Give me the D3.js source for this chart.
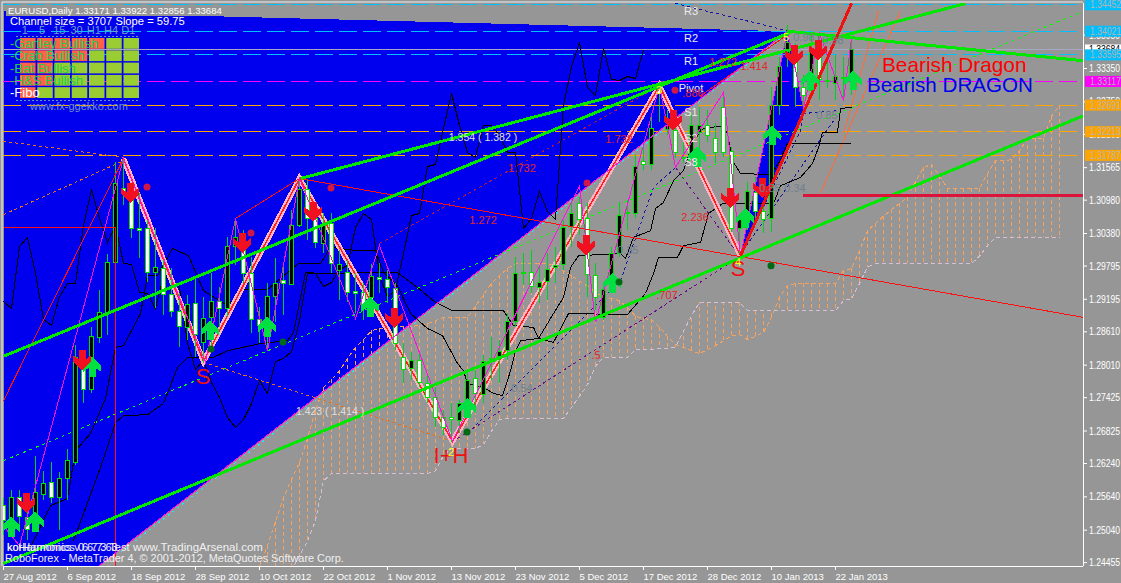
<!DOCTYPE html>
<html>
<head>
<meta charset="utf-8">
<script src="https://cdn.jsdelivr.net/npm/d3@7"></script>
<style>
	html, body { margin: 0; padding: 0; background: #969696; overflow: hidden; }
	text { font-family: "Liberation Sans", Arial, sans-serif; }
	.axis text { fill: #fff; font-size: 11px; }
	.axis line, .axis path { stroke: #fff; }
	.pricetag { font-size: 11px; }
	.plot path, .plot line { shape-rendering: crispEdges; }
</style>
</head>
<body>
<svg width="1121" height="583"></svg>
<script>
// candles, one value per daily bar
const opens = [1.25484,1.25250,1.25628,1.25268,1.25340,1.25682,1.25898,1.25628,1.25970,1.26258,1.28040,1.27572,1.28508,1.28958,1.29858,1.31190,1.31154,1.30470,1.30470,1.29678,1.29750,1.29282,1.28976,1.28688,1.29120,1.28418,1.28868,1.29156,1.29030,1.30146,1.30218,1.29660,1.28832,1.28778,1.29246,1.29534,1.29462,1.30524,1.31172,1.30650,1.30200,1.30560,1.29714,1.29678,1.29336,1.29318,1.29228,1.29588,1.29552,1.29390,1.28148,1.27950,1.28094,1.27680,1.27428,1.27068,1.27068,1.27014,1.27374,1.27770,1.27482,1.28112,1.28166,1.28274,1.28796,1.29678,1.29678,1.29408,1.29516,1.29768,1.29822,1.30506,1.30920,1.30650,1.29624,1.28868,1.29624,1.30020,1.30758,1.30740,1.31676,1.31622,1.32990,1.32252,1.32234,1.31730,1.31820,1.32198,1.32324,1.32090,1.32648,1.31856,1.30470,1.30578,1.31118,1.30776,1.30650,1.32684,1.33620,1.33494,1.33008,1.32954,1.33584,1.33116,1.33080,1.33188,1.33171];
const highs = [1.25610,1.25754,1.25754,1.25448,1.26366,1.26096,1.26258,1.26078,1.26492,1.28364,1.28148,1.28688,1.29354,1.30002,1.31658,1.31694,1.31208,1.31100,1.30614,1.30470,1.29894,1.29750,1.29300,1.29264,1.29570,1.29228,1.29660,1.29408,1.30308,1.30650,1.30434,1.29948,1.29048,1.29480,1.29930,1.29840,1.30794,1.31370,1.31334,1.30830,1.30740,1.30740,1.30074,1.29894,1.29660,1.29480,1.29822,1.29840,1.29714,1.29480,1.28400,1.28238,1.28238,1.27860,1.27608,1.27194,1.27320,1.27374,1.27914,1.27914,1.28184,1.28508,1.28454,1.28940,1.29948,1.30020,1.30074,1.29768,1.30020,1.30128,1.30614,1.30938,1.31028,1.30920,1.29840,1.29480,1.30128,1.30938,1.30974,1.31784,1.32000,1.32468,1.33044,1.32594,1.32378,1.32018,1.32540,1.32648,1.32594,1.32360,1.32900,1.31928,1.30668,1.31298,1.31388,1.30974,1.33008,1.33548,1.34124,1.33800,1.33224,1.33980,1.33980,1.33548,1.33584,1.33548,1.33922];
const lows = [1.24944,1.24908,1.25034,1.24854,1.24998,1.25574,1.25520,1.25034,1.25574,1.26204,1.27320,1.27500,1.28400,1.28544,1.29804,1.30884,1.30290,1.29930,1.29498,1.29030,1.28904,1.28868,1.28328,1.28454,1.28148,1.28040,1.28328,1.28688,1.28868,1.29804,1.29480,1.28580,1.28400,1.28274,1.28778,1.28904,1.29444,1.30488,1.30254,1.30110,1.30020,1.29660,1.29174,1.29138,1.28940,1.28814,1.28868,1.29300,1.29120,1.28274,1.27680,1.27734,1.27608,1.27320,1.26888,1.26744,1.26618,1.26780,1.27194,1.27248,1.27320,1.27734,1.27680,1.28094,1.28688,1.29444,1.29300,1.29120,1.29174,1.29480,1.29714,1.30128,1.30344,1.29228,1.28994,1.28814,1.29300,1.29948,1.30434,1.30650,1.31514,1.31514,1.32378,1.32144,1.31730,1.31640,1.31694,1.31568,1.32018,1.31640,1.31748,1.30398,1.30020,1.30434,1.30614,1.30380,1.30398,1.32504,1.33368,1.32648,1.32594,1.32828,1.32774,1.32990,1.32774,1.32774,1.32856];
const closes = [1.25214,1.25628,1.25286,1.25052,1.25718,1.25880,1.25628,1.25970,1.26294,1.28148,1.27572,1.28526,1.28958,1.29858,1.31280,1.31136,1.30470,1.30434,1.29678,1.29768,1.29282,1.28976,1.28706,1.29102,1.28562,1.28850,1.29156,1.29030,1.30146,1.30308,1.29660,1.28832,1.28724,1.29246,1.29480,1.29480,1.30524,1.31172,1.30650,1.30218,1.30524,1.29840,1.29822,1.29318,1.29300,1.29030,1.29606,1.29552,1.29408,1.28400,1.27932,1.28094,1.27698,1.27428,1.27068,1.26888,1.27032,1.27320,1.27734,1.27500,1.28076,1.28130,1.28256,1.28796,1.29660,1.29660,1.29426,1.29498,1.29732,1.29804,1.30488,1.30740,1.30632,1.29642,1.29228,1.29372,1.30020,1.30704,1.30740,1.31586,1.31622,1.32270,1.32900,1.32324,1.31838,1.31748,1.32324,1.32324,1.32144,1.31838,1.31838,1.30470,1.30650,1.31136,1.30776,1.30632,1.32684,1.33386,1.33818,1.33008,1.32864,1.33710,1.33152,1.33134,1.33206,1.33170,1.33684];

// ichimoku cloud, one value per bar starting at cloudStart
const cloudStart = 32;
const spanA = [1.2439,1.2476,1.2520,1.2563,1.2595,1.2626,1.2669,1.2719,1.2761,1.2775,1.2791,1.2813,1.2833,1.2847,1.2863,1.2867,1.2869,1.2869,1.2871,1.2871,1.2872,1.2876,1.2881,1.2887,1.2887,1.2887,1.2887,1.2907,1.2928,1.2948,1.2962,1.2975,1.2984,1.2984,1.2984,1.2984,1.2984,1.2980,1.2971,1.2962,1.2952,1.2943,1.2932,1.2923,1.2921,1.2917,1.2905,1.2889,1.2885,1.2883,1.2869,1.2853,1.2838,1.2833,1.2827,1.2822,1.2829,1.2836,1.2845,1.2854,1.2856,1.2847,1.2853,1.2860,1.2887,1.2923,1.2944,1.2948,1.2948,1.2948,1.2948,1.2948,1.2948,1.2971,1.2975,1.3007,1.3043,1.3056,1.3069,1.3081,1.3092,1.3103,1.3132,1.3157,1.3162,1.3142,1.3119,1.3119,1.3119,1.3119,1.3119,1.3146,1.3169,1.3169,1.3171,1.3187,1.3209,1.3209,1.3209,1.3249,1.3268];
const spanB = [1.2305,1.2323,1.2359,1.2395,1.2431,1.2458,1.2484,1.2521,1.2593,1.2606,1.2606,1.2606,1.2606,1.2606,1.2606,1.2606,1.2606,1.2606,1.2606,1.2606,1.2606,1.2606,1.2611,1.2638,1.2651,1.2651,1.2651,1.2651,1.2658,1.2682,1.2703,1.2705,1.2705,1.2705,1.2705,1.2705,1.2705,1.2705,1.2705,1.2725,1.2745,1.2766,1.2799,1.2815,1.2815,1.2815,1.2815,1.2829,1.2829,1.2829,1.2831,1.2831,1.2833,1.2862,1.2890,1.2914,1.2914,1.2914,1.2914,1.2914,1.2914,1.2899,1.2899,1.2899,1.2899,1.2899,1.2899,1.2899,1.2899,1.2899,1.2899,1.2899,1.2899,1.2917,1.2921,1.2948,1.2977,1.2984,1.2984,1.2984,1.2984,1.2984,1.2984,1.2984,1.2984,1.2984,1.2984,1.2984,1.2984,1.2984,1.2997,1.3016,1.3031,1.3031,1.3031,1.3031,1.3031,1.3031,1.3031,1.3031,1.3031];

// tenkan and kijun as [bar, price] vertices
const tenkan = [[3.38,1.2473],[5.88,1.2548],[8,1.2561],[9,1.2647],[10.88,1.2678],[12.75,1.2741],[14,1.2833],[15,1.2836],[17.13,1.2894],[18,1.2962],[19.25,1.2962],[21.13,1.3011],[23.13,1.2998],[25,1.2935],[28,1.2908],[29,1.2923],[30,1.2937],[33,1.2937],[35,1.2962],[36.88,1.2984],[39.63,1.2984],[40.88,1.3013],[44.25,1.3007],[46.5,1.3007],[47.5,1.2968],[49.25,1.2944],[50.88,1.2894],[53,1.2867],[54.88,1.2854],[56.75,1.2804],[57.5,1.2791],[58,1.2768],[60,1.2761],[61.25,1.2750],[62.38,1.2746],[63.38,1.2791],[64,1.2827],[64.63,1.2845],[66.88,1.2849],[68.75,1.2894],[70,1.2923],[70.88,1.2977],[71.88,1.2998],[77.13,1.3002],[77.75,1.2993],[78.75,1.3031],[80.88,1.3043],[81.5,1.3083],[82.5,1.3094],[83.75,1.3133],[85,1.3151],[86.25,1.3205],[87.5,1.3227],[89.88,1.3232],[90.5,1.3218],[91.13,1.3169],[92.13,1.3146],[95.88,1.3144],[96.88,1.3164],[98,1.3200],[105.88,1.3200]];
const kijun = [[8.75,1.2485],[12.13,1.2617],[14,1.2698],[15,1.2710],[18,1.2712],[20,1.2732],[21.75,1.2797],[23,1.2815],[26.25,1.2815],[28,1.2827],[32.13,1.2840],[35.5,1.2845],[36.25,1.2860],[37.75,1.2968],[39.63,1.2966],[49.25,1.2968],[51.75,1.2941],[54,1.2914],[56.13,1.2899],[62.5,1.2899],[63.75,1.2872],[66.25,1.2869],[66.88,1.2849],[68.75,1.2842],[70.63,1.2894],[78,1.2892],[80.25,1.2930],[81.25,1.2966],[81.88,1.2995],[84.25,1.2995],[85,1.3016],[87.13,1.3022],[88.13,1.3074],[89.88,1.3092],[96.25,1.3092],[97.13,1.3124],[99.63,1.3139],[101.13,1.3164],[101.88,1.3193],[102.38,1.3220],[104.25,1.3220],[104.63,1.3263],[106,1.3265]];

// pattern legs as [bar, price]
const boldLegs = [[15,1.3173],[25,1.2808],[37,1.3137],[56.13,1.2664],[82,1.3304],[92.13,1.2998]];
const magentaLegs = [[0,1.2512],[2,1.2476],[15,1.3173],[25.25,1.2806],[29,1.3065],[33,1.2827],[37,1.3137],[44,1.2885],[47,1.3016],[56.13,1.2664],[72,1.3124],[74,1.2878],[82,1.3304],[84,1.3157],[90,1.3292],[92.13,1.2998],[98,1.3402],[100,1.3263],[102,1.3398],[105,1.3277],[106,1.3389]];
const blueArea = [[0,1.3439],[98,1.3402],[11.88,1.2439],[0,1.2439]];
const blueWedge = [[92.13,1.2998],[98,1.3402],[100,1.3263]];
const diagonalEdge = [[11.88,1.2439],[98,1.3402]];

// trend lines
const greenLines = [
	[[0,1.2444],[135,1.3250]],
	[[0,1.2817],[98.38,1.3400]],
	[[37.13,1.3137],[120.25,1.3452]],
	[[98,1.3402],[135,1.3349]],
];
const limeDotted = [[0,1.2629],[134.63,1.3436]];
const cyanDotted = [[14.63,1.2464],[98.38,1.3403]];
const redLines = [
	[[0,1.2737],[15,1.3173]],
	[[0,1.3049],[14,1.3049],[14,1.2439]],
	[[29,1.3065],[37,1.3137]],
	[[37,1.3137],[135,1.2887]],
	[[87.13,1.3286],[98,1.3396]],
];
const thickRed = [[92.13,1.2998],[106,1.3452]];
const crimsonBar = [[99.88,1.3106],[135,1.3106]];
const dimRedDotted = [[[47,1.3020],[82,1.3304]]];
const brownDotted = [
	[[0,1.3072],[15,1.3169]],
	[[0,1.3204],[15,1.3175]],
	[[25,1.2806],[56.13,1.2664]],
];
const navyDotted = [
	[[58,1.2678],[77.13,1.2953],[81.25,1.3121],[84,1.3157]],
	[[92,1.2998],[99.63,1.3223],[100,1.3254],[104.25,1.3259]],
	[[92,1.2998],[103.75,1.3241]],
	[[84,1.3452],[98,1.3403]],
];
const purpleDotted = [
	[[56.75,1.2669],[91.25,1.2989]],
	[[84,1.3157],[91.75,1.3002]],
];
const orangeThin = [
	[[102.13,1.3110],[112.13,1.3439]],
	[[105,1.3218],[109.38,1.3439]],
];

// horizontal levels
const levelPrices = [1.34497,1.34021,1.33595,1.33117,1.32691,1.32213,1.31787];
const levelLabels = ["1.34452","1.34021","1.33595","1.33117","1.32691","1.32213","1.31787"];
const levelColors = ["#00bfff","#00bfff","#00bfff","#ff00ff","#ffa500","#ffa500","#ffa500"];
const lastPrice = 1.33684;

// signals
const redArrowBars = [2.88,9.88,15.88,29.88,38.75,48.88,72.88,90.88,94.88,83.75,98.88,101.88];
const redArrowPrices = [1.2552,1.2809,1.3110,1.3020,1.3076,1.2885,1.3016,1.3101,1.3119,1.3241,1.3358,1.3367];
const greenArrowBars = [1,4,11.13,25.88,33,45.88,58,76.13,86.75,92.75,96.13,100.88,106.25];
const greenArrowPrices = [1.2509,1.2518,1.2797,1.2863,1.2869,1.2905,1.2723,1.2948,1.3175,1.3065,1.3214,1.3313,1.3313];
const redDotBars = [18,31,41,73,84];
const redDotPrices = [1.3121,1.3038,1.3119,1.3128,1.3295];
const greenDotBars = [26,35,58,77,96];
const greenDotPrices = [1.2829,1.2842,1.2680,1.2950,1.2979];

// chart notes
const pivotNames = ["R3","R2","R1","Pivot","S1","S2","S3"];
const pivotNotePrices = [1.3438,1.3389,1.3348,1.3299,1.3256,1.3209,1.3166];
const fibTexts = ["1.354 ( 1.382 )","1.423 ( 1.414 )"];
const fibBars = [60,40.88];
const fibPrices = [1.3211,1.2718];
const ratioTexts = ["1.272","1.732","1.732",".886","1.272","1.414","2.236",".707",".5"];
const ratioBars = [60,64.88,77,86.25,90,93.88,86.5,83,74.13];
const ratioPrices = [1.3062,1.3155,1.3207,1.3290,1.3346,1.3338,1.3067,1.2926,1.2818];
const greyTexts = ["0.35","0.54","0.85","0.34","0.85","0.98","0.98"];
const greyBars = [78.13,64.88,103,99,95.88,100.13,103.75];
const greyPrices = [1.3007,1.2759,1.3250,1.3119,1.3119,1.3391,1.3385];
const bigTexts = ["S","I+H","S"];
const bigBars = [25,56,91.88];
const bigPrices = [1.2780,1.2638,1.2975];
const pointTexts = ["2","3","4","5"];
const pointBars = [56,82,91.88,97.88];
const pointPrices = [1.2644,1.3296,1.2986,1.3391];

// axes
const priceTicks = [1.33950,1.33350,1.32750,1.32165,1.31565,1.30980,1.30380,1.29795,1.29195,1.28610,1.28010,1.27425,1.26825,1.26240,1.25640,1.25040,1.24455];
const dateBars = [0,8,16,24,32,40,48,56,64,72,80,88,96,104];
const dateLabels = ["27 Aug 2012","6 Sep 2012","18 Sep 2012","28 Sep 2012","10 Oct 2012","22 Oct 2012","1 Nov 2012","13 Nov 2012","23 Nov 2012","5 Dec 2012","17 Dec 2012","28 Dec 2012","10 Jan 2013","22 Jan 2013"];

// pattern table
const tableRows = ["-Gartley Bullish","-Crab Bullish","-Bat Bullish","-H&S Bullish","-Fibo"];
const tableCols = ["1","5","15","30","H1","H4","D1"];
const tableRedCells = [5,4,2,2,1];

const svg = d3.select("svg");
const plotLeft = 3, plotRight = 1083, plotTop = 3, plotBottom = 566;

const x = d3.scaleLinear().domain([0, 135]).range([plotLeft, plotRight]);
const y = d3.scaleLinear().domain([1.34574, 1.24404]).range([0, 565]);
const line = d3.line().x(d => x(d[0]) + 0.5).y(d => y(d[1]) + 0.5);

svg.append("rect")
	.attr("width", 1121).attr("height", 583)
	.attr("fill", "#969696");

svg.append("clipPath").attr("id", "plotClip")
	.append("rect")
	.attr("x", plotLeft).attr("y", plotTop)
	.attr("width", plotRight - plotLeft).attr("height", plotBottom - plotTop);

const plot = svg.append("g").attr("class", "plot").attr("clip-path", "url(#plotClip)");

// filled triangles
plot.selectAll("path.area")
	.data([blueArea, blueWedge])
	.enter()
	.append("path")
	.attr("class", "area")
	.attr("d", d => line(d) + "Z")
	.attr("fill", "#0000ee");

// cloud
const cloudBars = d3.range(spanA.length);
plot.append("g").selectAll("line")
	.data(cloudBars)
	.enter()
	.append("line")
	.attr("x1", i => x(i + cloudStart) + 0.5).attr("x2", i => x(i + cloudStart) + 0.5)
	.attr("y1", i => y(spanA[i])).attr("y2", i => y(spanB[i]))
	.attr("stroke", "#f4a460")
	.attr("stroke-dasharray", "4,3");

function spanPath(values, colour) {
	plot.append("path")
		.attr("d", line(values.map((v, i) => [i + cloudStart, v])))
		.attr("fill", "none")
		.attr("stroke", colour)
		.attr("stroke-dasharray", "4,3");
}
spanPath(spanA, "#f4a460");
spanPath(spanB, "#d8bfd8");

// dotted and thin helper
function drawLines(list, colour, width, dash) {
	plot.append("g").selectAll("path")
		.data(list)
		.enter()
		.append("path")
		.attr("d", line)
		.attr("fill", "none")
		.attr("stroke", colour)
		.attr("stroke-width", width)
		.attr("stroke-dasharray", dash);
}

// levels
plot.append("g").selectAll("line")
	.data(levelPrices)
	.enter()
	.append("line")
	.attr("x1", plotLeft).attr("x2", plotRight)
	.attr("y1", d => Math.round(y(d)) + 0.5).attr("y2", d => Math.round(y(d)) + 0.5)
	.attr("stroke", (d, i) => levelColors[i])
	.attr("stroke-dasharray", "18,6");

plot.append("line")
	.attr("x1", plotLeft).attr("x2", plotRight)
	.attr("y1", Math.round(y(lastPrice)) + 0.5).attr("y2", Math.round(y(lastPrice)) + 0.5)
	.attr("stroke", "#a4a8c4");

drawLines(brownDotted, "#e8701a", 1, "3,3");
drawLines(dimRedDotted, "#b01848", 1, "3,3");
drawLines(navyDotted, "#1414a0", 1, "3,3");
drawLines(purpleDotted, "#6a0a8a", 1, "3,3");
drawLines(orangeThin, "#ff6a3a", 1, null);
drawLines([limeDotted], "#00ff00", 1, "3,4");
drawLines([cyanDotted], "#20e8ff", 1, "2,4");

// black lines, chikou is the close moved back 26 bars
const chikou = closes.slice(26).map((c, i) => [i, c]);
drawLines([chikou, tenkan, kijun], "#000", 1, null);

drawLines([boldLegs], "#ffb4c4", 5.5, null);
drawLines([boldLegs], "#ff2020", 1.5, null);

// candles
const bars = d3.range(opens.length);
const candles = plot.append("g").selectAll("g")
	.data(bars)
	.enter()
	.append("g");

candles.append("line")
	.attr("x1", i => Math.round(x(i)) + 0.5).attr("x2", i => Math.round(x(i)) + 0.5)
	.attr("y1", i => y(highs[i])).attr("y2", i => y(lows[i]))
	.attr("stroke", "#00d020");

candles.append("rect")
	.attr("x", i => Math.round(x(i)) - 1.5)
	.attr("width", 4)
	.attr("y", i => Math.round(y(Math.max(opens[i], closes[i]))) + 0.5)
	.attr("height", i => Math.max(1, Math.round(Math.abs(y(opens[i]) - y(closes[i])))))
	.attr("fill", i => closes[i] >= opens[i] ? "#000" : "#fff")
	.attr("stroke", "#00e000");

drawLines(redLines, "#ff1010", 1, null);
drawLines([magentaLegs], "#ff10e0", 1, null);
drawLines([diagonalEdge], "#ff10e0", 1, null);
drawLines(greenLines, "#00e800", 3, null);
drawLines([thickRed], "#f01010", 3, null);
drawLines([crimsonBar], "#dc143c", 3, null);

// signal arrows
const downArrow = "M-3.5,-10L3.5,-10L3.5,-1L9,-5L9,1L0,10L-9,1L-9,-5L-3.5,-1Z";
const upArrow = "M-3.5,10L3.5,10L3.5,1L9,5L9,-1L0,-10L-9,-1L-9,5L-3.5,1Z";

plot.append("g").selectAll("path")
	.data(d3.range(greenArrowBars.length))
	.enter()
	.append("path")
	.attr("d", upArrow)
	.attr("transform", i => `translate(${x(greenArrowBars[i])},${y(greenArrowPrices[i])})`)
	.attr("fill", "#00e040");

plot.append("g").selectAll("path")
	.data(d3.range(redArrowBars.length))
	.enter()
	.append("path")
	.attr("d", downArrow)
	.attr("transform", i => `translate(${x(redArrowBars[i])},${y(redArrowPrices[i])})`)
	.attr("fill", "#f01020");

function drawDots(bs, ps, colour) {
	plot.append("g").selectAll("circle")
		.data(bs)
		.enter()
		.append("circle")
		.attr("cx", d => x(d))
		.attr("cy", (d, i) => y(ps[i]))
		.attr("r", 3.5)
		.attr("fill", colour);
}
drawDots(redDotBars, redDotPrices, "#d01848");
drawDots(greenDotBars, greenDotPrices, "#006a14");

function drawNotes(texts, bs, ps, colour, size) {
	plot.append("g").selectAll("text")
		.data(texts)
		.enter()
		.append("text")
		.attr("x", (d, i) => x(bs[i]))
		.attr("y", (d, i) => y(ps[i]))
		.attr("text-anchor", "middle")
		.attr("dominant-baseline", "central")
		.attr("font-size", size)
		.attr("fill", colour)
		.text(d => d);
}
drawNotes(pivotNames, pivotNames.map(() => 86), pivotNotePrices, "#ececec", "11px");
drawNotes(fibTexts, fibBars, fibPrices, "#e0e0e0", "10.5px");
drawNotes(ratioTexts, ratioBars, ratioPrices, "#e02828", "11px");
drawNotes(greyTexts, greyBars, greyPrices, "#708090", "11px");
drawNotes(bigTexts, bigBars, bigPrices, "#f01010", "22px");
drawNotes(pointTexts, pointBars, pointPrices, "#ffff20", "11px");

plot.append("text").attr("x", 882).attr("y", 72)
	.attr("font-size", "20.8px").attr("fill", "#ff0000").text("Bearish Dragon");
plot.append("text").attr("x", 867).attr("y", 92)
	.attr("font-size", "20.6px").attr("fill", "#0000ee").text("Bearish DRAGON");

// table in the corner
const table = svg.append("g");
const colX = d3.scaleBand().domain(d3.range(tableCols.length)).range([20, 139]).paddingInner(0.1);
const rowY = d3.scaleBand().domain(d3.range(tableRows.length)).range([38, 98]).paddingInner(0.12);

tableRows.forEach((name, r) => {
	table.selectAll(null)
		.data(tableCols)
		.enter()
		.append("rect")
		.attr("x", (d, c) => colX(c))
		.attr("y", rowY(r))
		.attr("width", colX.bandwidth())
		.attr("height", rowY.bandwidth())
		.attr("fill", (d, c) => c < tableRedCells[r] ? "#ff6347" : "#9acd32");
	table.append("text")
		.attr("x", 10)
		.attr("y", rowY(r) + rowY.bandwidth() / 2)
		.attr("dominant-baseline", "central")
		.attr("font-size", "13px")
		.attr("fill", r === 4 ? "#fff" : "#20d050")
		.text(name);
});

table.selectAll("text.col")
	.data(tableCols)
	.enter()
	.append("text")
	.attr("class", "col")
	.attr("x", (d, c) => colX(c) + colX.bandwidth() / 2 - 3)
	.attr("y", 30)
	.attr("text-anchor", "middle")
	.attr("dominant-baseline", "central")
	.attr("font-size", "11px")
	.attr("fill", "#6f9fc8")
	.text(d => d);

[36, 100].forEach(v => {
	table.append("line")
		.attr("x1", 16).attr("x2", 140)
		.attr("y1", v + 0.5).attr("y2", v + 0.5)
		.attr("stroke", "#5aa0a8")
		.attr("stroke-dasharray", "2,2");
});

table.append("text").attr("x", 30).attr("y", 110)
	.attr("font-size", "11px").attr("fill", "#6f93c8").text("www.fx-ggekko.com");

// header
svg.append("rect")
	.attr("x", 6).attr("y", 6).attr("width", 214).attr("height", 10)
	.attr("fill", "#969696");
svg.append("text").attr("x", 8).attr("y", 14)
	.attr("font-size", "9.6px").attr("fill", "#fff")
	.text("EURUSD,Daily  1.33171 1.33922 1.32856 1.33684");
svg.append("text").attr("x", 10).attr("y", 25)
	.attr("font-size", "11.2px").attr("fill", "#fff")
	.text("Channel size = 3707 Slope = 59.75");

// footer
svg.append("text").attr("x", 7).attr("y", 551)
	.attr("font-size", "11px").attr("fill", "#f0f0f0").text("koHarmonics v.6.7.3 Test");
svg.append("text").attr("x", 7).attr("y", 551)
	.attr("font-size", "11px").attr("fill", "#f0f0f0").text("korHarmonics 0.6.7.63");
svg.append("text").attr("x", 133).attr("y", 551)
	.attr("font-size", "11.5px").attr("fill", "#f0f0f0").text("www.TradingArsenal.com");
svg.append("text").attr("x", 5).attr("y", 562)
	.attr("font-size", "10.9px").attr("fill", "#f0f0f0")
	.text("RoboForex - MetaTrader 4, © 2001-2012, MetaQuotes Software Corp.");

// axes and frame
svg.append("path")
	.attr("d", `M${plotLeft - 1},${plotBottom}V${plotTop - 1}H${plotRight}`)
	.attr("fill", "none").attr("stroke", "#fff").attr("stroke-opacity", 0.85);

const yAxis = svg.append("g")
	.attr("class", "axis")
	.attr("transform", `translate(${plotRight},0)`)
	.call(d3.axisRight(y).tickValues(priceTicks).tickFormat(d3.format(".5f")).tickSize(4).tickPadding(2));

// the price labels only just fit between the axis and the window edge
yAxis.selectAll("text")
	.attr("textLength", 31)
	.attr("lengthAdjust", "spacingAndGlyphs");

const xAxis = svg.append("g")
	.attr("class", "axis")
	.attr("transform", `translate(0,${plotBottom})`)
	.call(d3.axisBottom(x).tickValues(dateBars).tickFormat((d, i) => dateLabels[i]).tickSize(4).tickPadding(3));

xAxis.selectAll("text").attr("text-anchor", "start").style("font-size", "9.5px");
xAxis.select(".domain").attr("d", `M${plotLeft},0.5H${plotRight}`);
yAxis.select(".domain").attr("d", `M0.5,${plotTop}V${plotBottom}`);

// level tags on the price scale
svg.append("rect")
	.attr("x", plotRight + 2).attr("y", y(lastPrice) - 5)
	.attr("width", 36).attr("height", 10).attr("fill", "#fff");
svg.append("text")
	.attr("class", "pricetag")
	.attr("x", plotRight + 6).attr("y", y(lastPrice))
	.attr("dominant-baseline", "central").attr("fill", "#000")
	.attr("textLength", 31).attr("lengthAdjust", "spacingAndGlyphs")
	.text("1.33684");

const tags = svg.append("g").selectAll("g")
	.data(levelPrices)
	.enter()
	.append("g")
	.attr("transform", d => `translate(${plotRight + 2},${y(d)})`);

tags.append("rect")
	.attr("y", -5).attr("width", 36).attr("height", 11)
	.attr("fill", (d, i) => levelColors[i]);
tags.append("text")
	.attr("class", "pricetag")
	.attr("x", 5)
	.attr("dominant-baseline", "central")
	.attr("fill", "#b4b4b4")
	.attr("textLength", 31).attr("lengthAdjust", "spacingAndGlyphs")
	.text((d, i) => levelLabels[i]);
</script>
</body>
</html>
